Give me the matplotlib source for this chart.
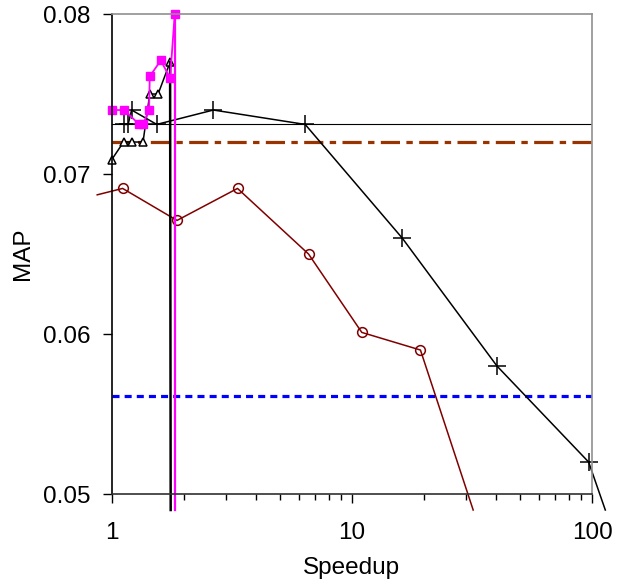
import matplotlib.pyplot as plt
from matplotlib.ticker import FixedLocator, FixedFormatter, LogLocator, NullFormatter

plt.rcParams['font.family'] = ['Liberation Sans', 'DejaVu Sans']

# pruned series (crosses); last point is the line running off the axes
plus_x = [1.13, 1.17, 1.21, 1.54, 2.65, 6.39, 16.2, 40.2, 96.8, 113.6]
plus_y = [0.0731, 0.0731, 0.0740, 0.0731, 0.0740, 0.0731, 0.0660, 0.0580, 0.0520, 0.0490]

# circles series; first and last points run off the axes
circ_x = [0.87, 1.11, 1.87, 3.34, 6.6, 11.0, 19.3, 32.0]
circ_y = [0.0687, 0.0691, 0.0671, 0.0691, 0.0650, 0.0601, 0.0590, 0.0490]

# triangles series
tri_x = [1.0, 1.12, 1.21, 1.35, 1.44, 1.56, 1.75, 1.76]
tri_y = [0.0709, 0.0720, 0.0720, 0.0720, 0.0750, 0.0750, 0.0770, 0.0490]

# squares series
sq_x = [1.0, 1.13, 1.30, 1.35, 1.43, 1.44, 1.60, 1.75, 1.83, 1.83]
sq_y = [0.0740, 0.0740, 0.0731, 0.0731, 0.0740, 0.0761, 0.0771, 0.0760, 0.0800, 0.0490]

# reference levels
base_map = 0.0731
dashdot_map = 0.0720
dotted_map = 0.0561

fig = plt.figure(figsize=(6.19, 5.87), dpi=100)
ax = fig.add_axes([0.1805, 0.1584, 0.7759, 0.8177])

ax.plot([1, 100], [base_map, base_map], color='black', lw=0.8)
ax.plot([1, 100], [dashdot_map, dashdot_map], color='#993300', lw=2.3,
        dashes=(6, 2, 2, 2))
ax.plot([1, 100], [dotted_map, dotted_map], color='#0000ff', lw=2.3,
        dashes=(2.2, 1.6))

ax.plot(circ_x, circ_y, color='#800000', lw=1.1, marker='o', ms=7,
        mfc='none', mec='#800000', mew=1.1, markevery=slice(1, -1),
        clip_on=False)
ax.plot(plus_x, plus_y, color='black', lw=1.1, marker='+', ms=13,
        mew=1.1, markevery=slice(0, -1), clip_on=False)
ax.plot(tri_x[:-1], tri_y[:-1], color='black', lw=1.1, marker='^', ms=6,
        mfc='white', mec='black', mew=1.1, clip_on=False)
ax.plot(tri_x[-2:], tri_y[-2:], color='black', lw=1.8, clip_on=False)
ax.plot(sq_x[:-1], sq_y[:-1], color='#ff00ff', lw=1.3, marker='s', ms=5.5,
        clip_on=False)
ax.plot(sq_x[-2:], sq_y[-2:], color='#ff00ff', lw=1.6, clip_on=False)

ax.set_xscale('log')
ax.set_xlim(1, 100)
ax.set_ylim(0.05, 0.08)

ax.xaxis.set_major_locator(FixedLocator([1, 10, 100]))
ax.xaxis.set_major_formatter(FixedFormatter(['1', '10', '100']))
ax.xaxis.set_minor_locator(LogLocator(base=10, subs=range(2, 10)))
ax.xaxis.set_minor_formatter(NullFormatter())
ax.set_yticks([0.05, 0.06, 0.07, 0.08])
ax.set_yticklabels(['0.05', '0.06', '0.07', '0.08'])

ax.tick_params(axis='both', which='major', labelsize=17.5, length=6.5, width=1,
               direction='out')
ax.tick_params(axis='x', which='major', pad=14)
ax.tick_params(axis='y', which='major', pad=9)
ax.tick_params(axis='x', which='minor', length=4.3, width=1, direction='out')

ax.spines['left'].set_color('black')
ax.spines['bottom'].set_color('#303030')
ax.spines['top'].set_color('#909090')
ax.spines['right'].set_color('#909090')
for s in ax.spines.values():
    s.set_linewidth(1.2)

ax.set_xlabel('Speedup', fontsize=17.5, labelpad=9)
ax.set_ylabel('MAP', fontsize=17.5, labelpad=6)

fig.savefig('out.png', dpi=100)
